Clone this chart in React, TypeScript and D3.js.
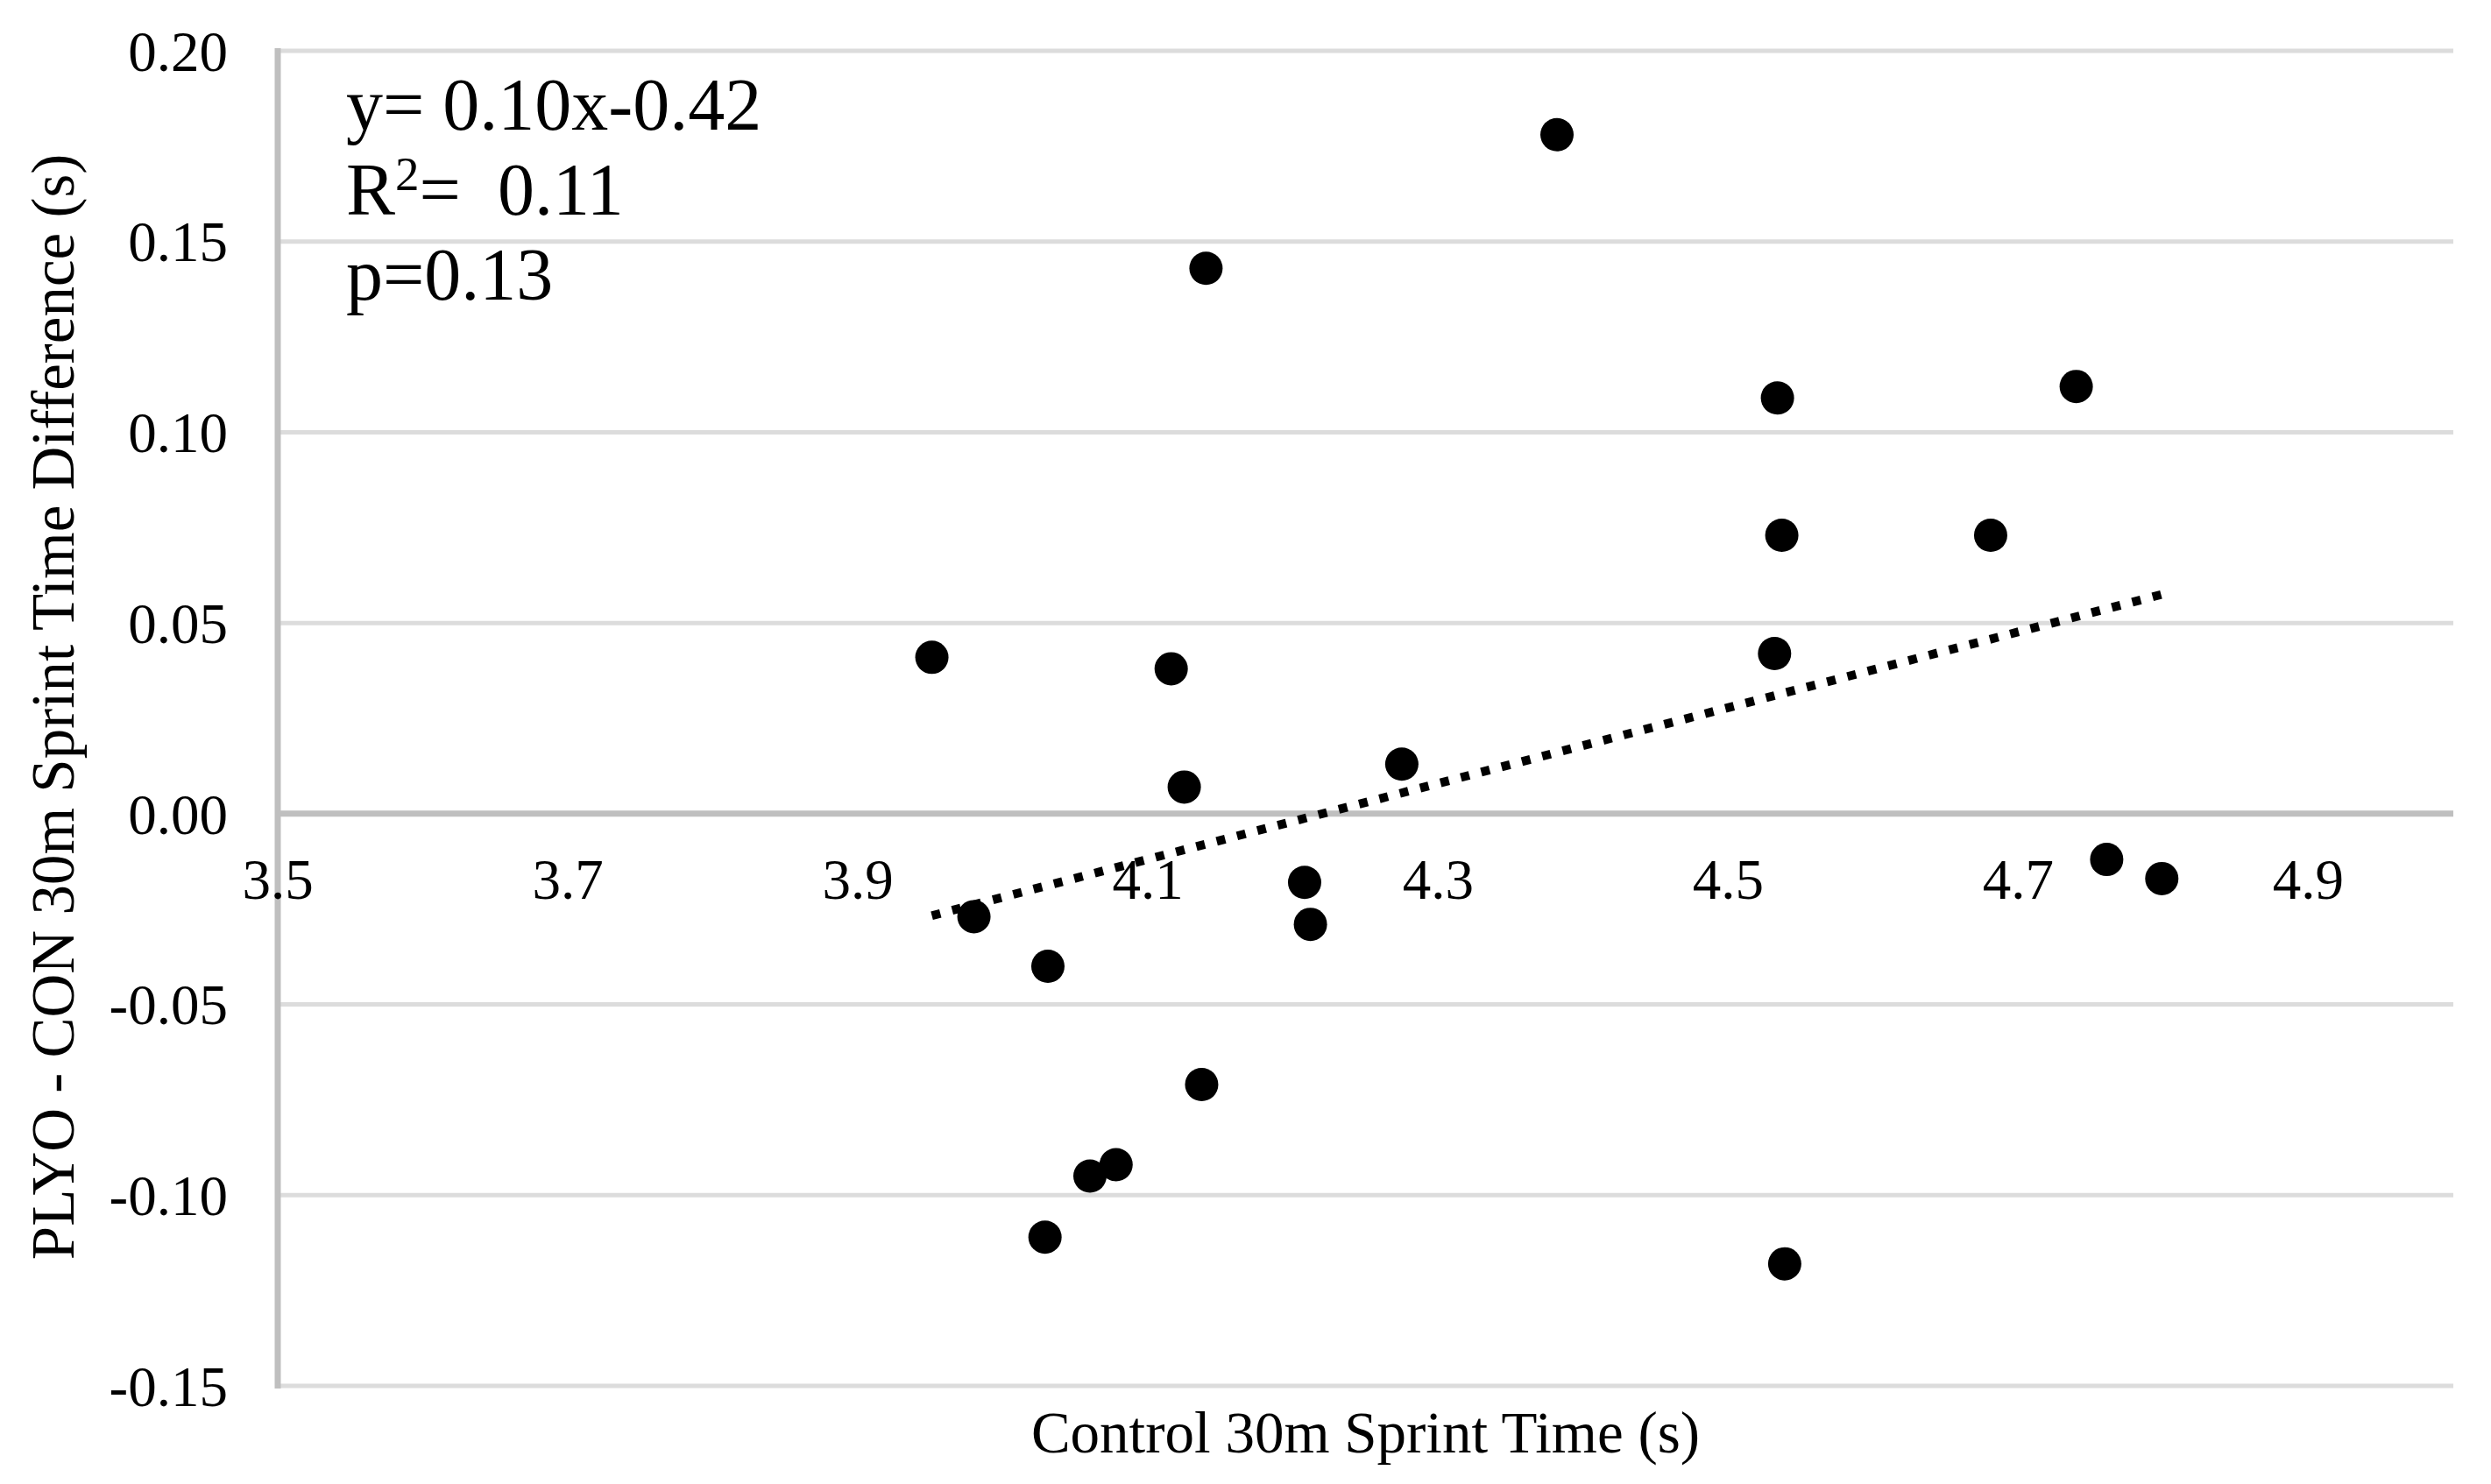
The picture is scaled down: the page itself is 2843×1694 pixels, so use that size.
import React from "react";
import * as d3 from "d3";

const controlTime = [4.382, 4.140, 4.534, 4.740, 4.537, 4.681, 3.951, 4.116, 4.532, 4.125, 4.275, 3.980, 4.208, 4.212, 4.031, 4.761, 4.799, 4.137, 4.060, 4.078, 4.029, 4.539];
const timeDiff = [0.178, 0.143, 0.109, 0.112, 0.073, 0.073, 0.041, 0.038, 0.042, 0.007, 0.013, -0.027, -0.018, -0.029, -0.040, -0.012, -0.017, -0.071, -0.095, -0.092, -0.111, -0.118];
const xTicks = [3.5, 3.7, 3.9, 4.1, 4.3, 4.5, 4.7, 4.9];
const yTicks = [0.2, 0.15, 0.1, 0.05, 0, -0.05, -0.1, -0.15];
const xTitle = "Control 30m Sprint Time (s)";
const yTitle = "PLYO - CON 30m Sprint Time Difference (s)";
const eqLine = "y= 0.10x-0.42";
const r2Value = "0.11";
const pLine = "p=0.13";

const W = 2843;
const H = 1694;
const FONT = "'Liberation Serif', 'Times New Roman', serif";

export default function App() {
  const margin = { left: 317, right: W - 2800, top: 58, bottom: H - 1582 };
  const x = d3.scaleLinear().domain([3.5, 5.0]).range([margin.left, W - margin.right]);
  const y = d3.scaleLinear().domain([-0.15, 0.2]).range([H - margin.bottom, margin.top]);

  const pts = controlTime.map((cx, i) => ({ cx, cy: timeDiff[i] }));
  const mx = d3.mean(controlTime) as number;
  const my = d3.mean(timeDiff) as number;
  let sxy = 0, sxx = 0;
  pts.forEach((p) => { sxy += (p.cx - mx) * (p.cy - my); sxx += (p.cx - mx) ** 2; });
  const slope = sxy / sxx;
  const intercept = my - slope * mx;
  const [x0, x1] = d3.extent(controlTime) as [number, number];
  const trend = d3.line<number>().x((v) => x(v)).y((v) => y(slope * v + intercept))([x0, x1]);

  const x0px = x(3.5);
  const x1px = x(5.0);

  return (
    <svg width={W} height={H} style={{ position: "absolute", left: 0, top: 0, background: "#fff" }} fontFamily={FONT}>
      <rect x={0} y={0} width={W} height={H} fill="#fff" />
      {yTicks.filter((t) => t !== 0).map((t) => (
        <line key={"g" + t} x1={x0px} x2={x1px} y1={y(t)} y2={y(t)} stroke="#dcdcdc" strokeWidth={5} />
      ))}
      <line x1={x0px} x2={x0px} y1={y(0.2) - 3} y2={y(-0.15) + 3} stroke="#bfbfbf" strokeWidth={7} />
      <line x1={x0px} x2={x1px} y1={y(0)} y2={y(0)} stroke="#bfbfbf" strokeWidth={7} />
      {yTicks.map((t) => (
        <text key={"yl" + t} x={x0px - 57} y={y(t)} dy="0.35em" textAnchor="end" fontSize={65} fill="#000">
          {t.toFixed(2)}
        </text>
      ))}
      {xTicks.map((t) => (
        <text key={"xl" + t} x={x(t)} y={y(0) + 97} textAnchor="middle" fontSize={65} fill="#000">
          {t.toFixed(1)}
        </text>
      ))}
      <path d={trend || ""} stroke="#000" strokeWidth={10} strokeDasharray="10 14" fill="none" />
      {pts.map((p, i) => (
        <circle key={i} cx={x(p.cx)} cy={y(p.cy)} r={19} fill="#000" />
      ))}
      <text x={395} y={148} fontSize={84} fill="#000" style={{ whiteSpace: "pre" }}>{eqLine}</text>
      <text x={395} y={245} fontSize={84} fill="#000" style={{ whiteSpace: "pre" }}>
        R<tspan fontSize={55} dy={-28}>2</tspan><tspan dy={28}>{"=  " + r2Value}</tspan>
      </text>
      <text x={395} y={342} fontSize={84} fill="#000">{pLine}</text>
      <text x={(x0px + x1px) / 2} y={1658} textAnchor="middle" fontSize={67} fill="#000">{xTitle}</text>
      <text transform={`translate(84, 807) rotate(-90)`} textAnchor="middle" fontSize={69} fill="#000">{yTitle}</text>
    </svg>
  );
}
